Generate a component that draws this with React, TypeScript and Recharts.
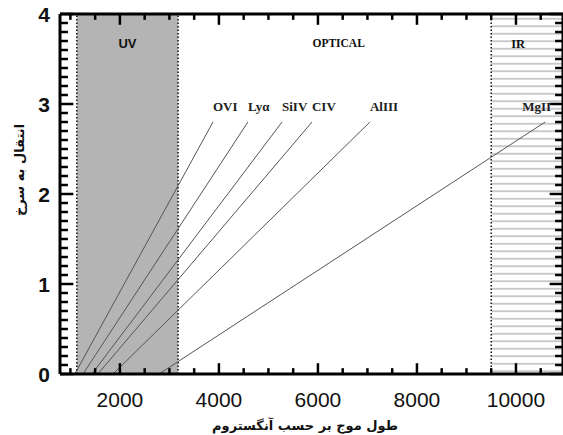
import React from 'react';
import {
  LineChart,
  Line,
  XAxis,
  YAxis,
  ReferenceArea,
  ReferenceLine
} from 'recharts';

// rest-frame lines: where each one starts (z = 0) and where it ends (z = 2.8), in Angstrom
const lineNames = ['OVI', 'Lyα', 'SiIV', 'CIV', 'AlIII', 'MgII'];
const startWave = [1090, 1255, 1435, 1555, 1860, 2790];
const endWave = [3880, 4585, 5275, 5880, 7050, 10590];
const startZ = [0, 0, 0, 0, 0, 0];
const endZ = [2.8, 2.8, 2.8, 2.8, 2.8, 2.8];

// bands
const uvBand = [1130, 3175];
const irBand = [9500, 10950];
const bandNames = ['UV', 'OPTICAL', 'IR'];

// axes
const xDomain = [790, 10950];
const yDomain = [0, 4];
const xMajor = [2000, 4000, 6000, 8000, 10000];
const xMinor = [1000, 1500, 2500, 3000, 3500, 4500, 5000, 5500, 6500, 7000, 7500, 8500, 9000, 9500, 10500];
const yMajor = [0, 1, 2, 3, 4];
const yMinor = Array.from({ length: 41 }, (_, i) => i / 10).filter(v => !yMajor.includes(v));

const xTitle = 'طول موج بر حسب آنگستروم';
const yTitle = 'انتقال به سرخ';

const series = lineNames.map((name, i) => ({
  name,
  points: [
    { wave: startWave[i], z: startZ[i] },
    { wave: endWave[i], z: endZ[i] }
  ]
}));

// tick mark lengths in axis units (x ticks are vertical -> z units, y ticks are horizontal -> Angstrom)
const xTickLen = { major: 0.12, minor: 0.065 };
const yTickLen = { major: 270, minor: 160 };

// every tick mark is a tiny two-point line, pointing into the plot from each side
const tickMarks = [
  ...xMajor.map(v => ({ v, len: xTickLen.major, side: 'x' })),
  ...xMinor.map(v => ({ v, len: xTickLen.minor, side: 'x' })),
  ...yMajor.map(v => ({ v, len: yTickLen.major, side: 'y' })),
  ...yMinor.map(v => ({ v, len: yTickLen.minor, side: 'y' }))
].flatMap(t =>
  t.side === 'x'
    ? [
        { key: `b${t.v}`, points: [{ wave: t.v, z: yDomain[0] }, { wave: t.v, z: yDomain[0] + t.len }] },
        { key: `t${t.v}`, points: [{ wave: t.v, z: yDomain[1] }, { wave: t.v, z: yDomain[1] - t.len }] }
      ]
    : [
        { key: `l${t.v}`, points: [{ wave: xDomain[0], z: t.v }, { wave: xDomain[0] + t.len, z: t.v }] },
        { key: `r${t.v}`, points: [{ wave: xDomain[1], z: t.v }, { wave: xDomain[1] - t.len, z: t.v }] }
      ]
);

const BottomTick = (props: any) => {
  const { x, y, payload } = props;
  return (
    <text x={x} y={y + 33} textAnchor="middle" fontFamily="Liberation Sans" fontSize={21} fill="#111">
      {payload.value}
    </text>
  );
};

const LeftTick = (props: any) => {
  const { x, y, payload } = props;
  return (
    <text x={x - 10} y={y + 8} textAnchor="end" fontFamily="Liberation Sans" fontWeight="bold" fontSize={21} fill="#111">
      {payload.value}
    </text>
  );
};

const lineLabel = (name: string) => (props: any) => {
  const { x, y, index } = props;
  if (index !== 1) return null;
  const atEnd = name === 'MgII';
  return (
    <text
      x={atEnd ? x + 6 : x}
      y={y - 11}
      textAnchor={atEnd ? 'end' : 'start'}
      fontFamily="Liberation Serif"
      fontWeight="bold"
      fontSize={13}
      fill="#222"
    >
      {name}
    </text>
  );
};

const bandLabel = (value: string, family: string, size: number, dx = 0) => ({
  value,
  position: 'insideTop' as const,
  offset: 25,
  dx,
  style: { fontFamily: family, fontWeight: 'bold', fontSize: size, fill: '#111' }
});

export default function App() {
  return (
    <div style={{ position: 'absolute', left: 0, top: 0, background: '#fff' }}>
      <LineChart width={563} height={435} margin={{ top: 14, right: 0, bottom: 0, left: 0 }}>
        <defs>
          <pattern id="irHatch" width={10} height={7.5} patternUnits="userSpaceOnUse">
            <rect width={10} height={7.5} fill="#fff" />
            <line x1={0} x2={10} y1={3.75} y2={3.75} stroke="#b5b5b5" strokeWidth={1.4} />
          </pattern>
        </defs>

        <XAxis
          xAxisId="x"
          dataKey="wave"
          type="number"
          domain={xDomain}
          ticks={xMajor}
          interval={0}
          height={61}
          tickSize={0}
          tickMargin={0}
          tickLine={false}
          tick={BottomTick}
          axisLine={{ stroke: '#000', strokeWidth: 3 }}
        />
        <YAxis
          yAxisId="z"
          type="number"
          domain={yDomain}
          ticks={yMajor}
          interval={0}
          width={60}
          tickSize={0}
          tickMargin={0}
          tickLine={false}
          tick={LeftTick}
          axisLine={{ stroke: '#000', strokeWidth: 3 }}
        />

        <ReferenceArea
          xAxisId="x"
          yAxisId="z"
          x1={uvBand[0]}
          x2={uvBand[1]}
          fill="#b4b4b4"
          fillOpacity={1}
          stroke="none"
          label={bandLabel(bandNames[0], 'Liberation Sans', 13)}
        />
        <ReferenceArea
          xAxisId="x"
          yAxisId="z"
          x1={uvBand[1]}
          x2={irBand[0]}
          fillOpacity={0}
          stroke="none"
          label={bandLabel(bandNames[1], 'Liberation Serif', 11.5, 4)}
        />
        <ReferenceArea
          xAxisId="x"
          yAxisId="z"
          x1={irBand[0]}
          x2={irBand[1]}
          fill="url(#irHatch)"
          fillOpacity={1}
          stroke="none"
          label={bandLabel(bandNames[2], 'Liberation Serif', 12.5, -9)}
        />
        {[uvBand[0], uvBand[1], irBand[0]].map(v => (
          <ReferenceLine
            key={v}
            xAxisId="x"
            yAxisId="z"
            x={v}
            stroke="#111"
            strokeWidth={1.5}
            strokeDasharray="1.5 2"
          />
        ))}

        {/* frame: top and right edges */}
        <ReferenceLine xAxisId="x" yAxisId="z" y={yDomain[1]} stroke="#000" strokeWidth={3} />
        <ReferenceLine xAxisId="x" yAxisId="z" x={xDomain[1]} stroke="#000" strokeWidth={3} />

        {series.map(s => (
          <Line
            key={s.name}
            xAxisId="x"
            yAxisId="z"
            data={s.points}
            dataKey="z"
            type="linear"
            stroke="#555"
            strokeWidth={1}
            dot={false}
            label={lineLabel(s.name)}
            isAnimationActive={false}
          />
        ))}

        {tickMarks.map(t => (
          <Line
            key={t.key}
            xAxisId="x"
            yAxisId="z"
            data={t.points}
            dataKey="z"
            type="linear"
            stroke="#000"
            strokeWidth={2.5}
            dot={false}
            legendType="none"
            isAnimationActive={false}
          />
        ))}

        <text
          x={305}
          y={430}
          textAnchor="middle"
          fontFamily="DejaVu Sans"
          fontWeight="bold"
          fontSize={13}
          fill="#111"
        >
          {xTitle}
        </text>
        <text
          x={24}
          y={170}
          textAnchor="middle"
          fontFamily="DejaVu Sans"
          fontWeight="bold"
          fontSize={13}
          fill="#111"
          transform="rotate(-90 24 170)"
        >
          {yTitle}
        </text>
      </LineChart>
    </div>
  );
}
